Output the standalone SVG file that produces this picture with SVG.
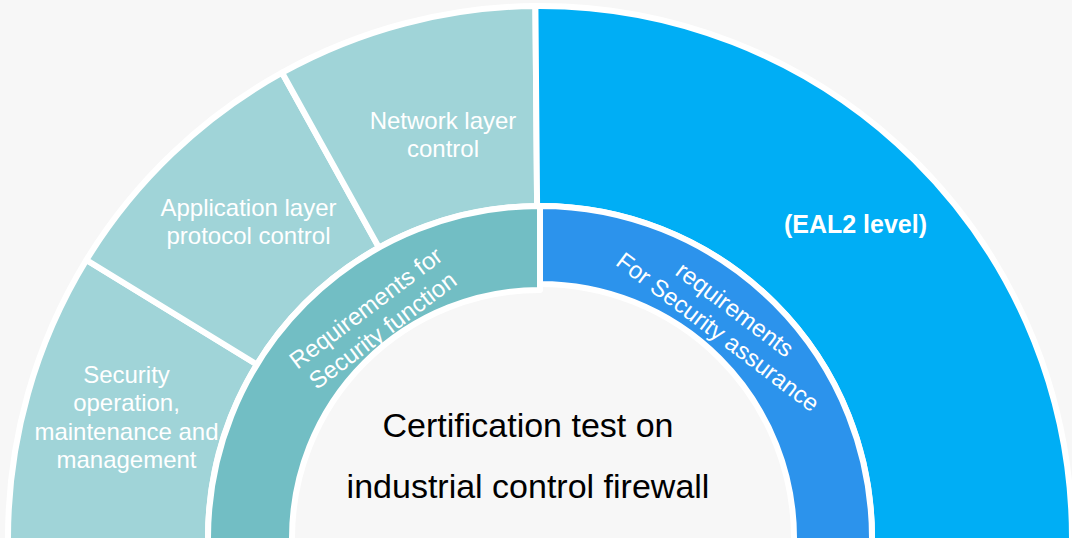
<svg xmlns="http://www.w3.org/2000/svg" width="1072" height="538" viewBox="0 0 1072 538">
<style>
.seg{stroke:#ffffff;stroke-width:6;stroke-linejoin:round}
.lt{fill:#A0D4D8}
.dt{fill:#72BEC4}
.bb{fill:#00AEF5}
.db{fill:#2C93EC}
.lbl{font-family:"Liberation Sans",Arial,sans-serif;font-size:24px;fill:#ffffff;text-anchor:middle}
.bold{font-weight:bold;font-size:25px}
.ctr{font-family:"Liberation Sans",Arial,sans-serif;font-size:34px;fill:#000000;text-anchor:middle}
</style>
<rect width="1072" height="538" fill="#F7F7F7"/>
<g id="outer-security-operation">
<path class="seg lt" d="M 8 560 L 8 538 A 532 532 0 0 1 86.4 260.0 L 256.9 364.5 A 332 332 0 0 0 208 538 L 208 560 Z"/>
<text class="lbl"><tspan x="126.5" y="383">Security</tspan><tspan x="126.5" y="411">operation,</tspan><tspan x="126.5" y="440">maintenance and</tspan><tspan x="126.5" y="468">management</tspan></text>
</g>
<g id="outer-application-layer">
<path class="seg lt" d="M 86.4 260.0 A 532 532 0 0 1 282.1 72.7 L 379.0 247.6 A 332 332 0 0 0 256.9 364.5 Z"/>
<text class="lbl"><tspan x="248.5" y="216">Application layer</tspan><tspan x="248.5" y="244">protocol control</tspan></text>
</g>
<g id="outer-network-layer">
<path class="seg lt" d="M 282.1 72.7 A 532 532 0 0 1 535.4 6.0 L 537.1 206.0 A 332 332 0 0 0 379.0 247.6 Z"/>
<text class="lbl"><tspan x="443" y="129">Network layer</tspan><tspan x="443" y="157">control</tspan></text>
</g>
<g id="outer-eal2">
<path class="seg bb" d="M 535.4 6.0 A 532 532 0 0 1 1072 538 L 1072 560 L 872 560 L 872 538 A 332 332 0 0 0 537.1 206.0 Z"/>
<text class="lbl bold" x="855.5" y="233">(EAL2 level)</text>
</g>
<g id="inner-security-function">
<path class="seg dt" d="M 208 560 L 208 538 A 332 332 0 0 1 540 206 L 540 290 A 248 248 0 0 0 292 538 L 292 560 Z"/>
<text class="lbl" transform="translate(374,319) rotate(-37)"><tspan x="0" y="-5.5">Requirements for</tspan><tspan x="0" y="22.5">Security function</tspan></text>
</g>
<g id="inner-security-assurance">
<path class="seg db" d="M 540 206 A 332 332 0 0 1 872 538 L 872 560 L 794 560 L 794 538 A 254 254 0 0 0 540 284 Z"/>
<text class="lbl" transform="translate(726.5,320.5) rotate(37)"><tspan x="0" y="-5.5">requirements</tspan><tspan x="0" y="22.5">For Security assurance</tspan></text>
</g>
<g id="center">
<text class="ctr"><tspan x="528" y="437">Certification test on</tspan><tspan x="528" y="498">industrial control firewall</tspan></text>
</g>
<g id="connectors"></g>
</svg>
